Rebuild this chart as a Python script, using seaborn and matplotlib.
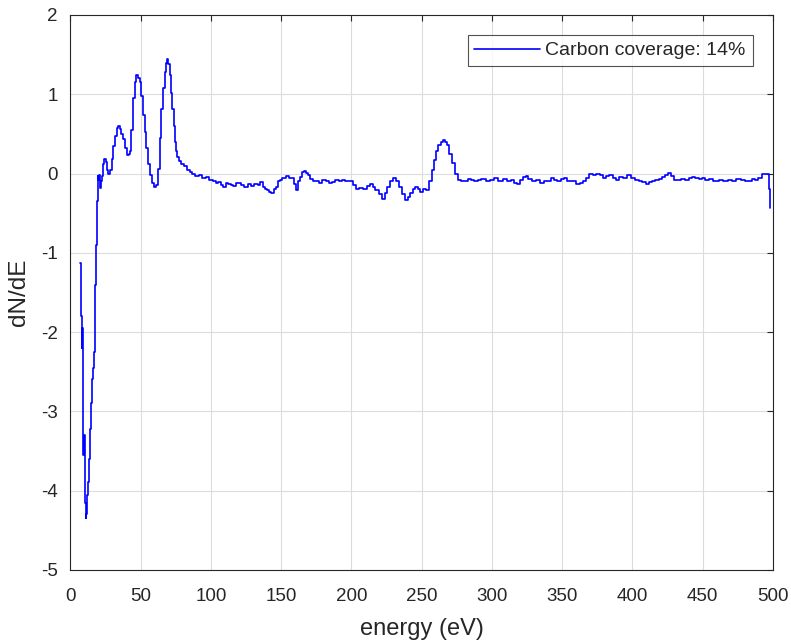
import numpy as np
import pandas as pd
import matplotlib
matplotlib.use("Agg")
import matplotlib.pyplot as plt
import seaborn as sns

# -------------------- data --------------------
energy_low = [7.0, 7.6, 8.2, 8.6, 9.0, 9.5, 10.0, 10.5, 11.0, 11.5, 12.0, 12.8, 13.4, 14.0,
              14.8, 15.6, 16.2, 16.8, 17.5, 18.0, 18.7, 19.2, 19.6, 20.2, 20.8, 21.4, 22.0,
              22.8, 23.6, 24.6, 25.5, 26.4, 27.4, 28.6, 29.8, 31.0, 32.2, 33.4, 34.6, 35.6,
              36.8, 38.0, 39.4, 40.9, 42.0, 42.7, 43.8, 45.2, 46.4, 47.5, 48.6, 49.9, 51.0,
              52.3, 53.4, 54.6, 56.0, 57.7, 59.0, 60.5, 61.8, 62.9, 64.0, 65.2, 66.4, 67.6,
              68.5, 69.3, 70.2, 71.1, 72.0, 73.0, 73.9, 74.7, 75.6, 76.4, 78.0, 80.0, 81.8,
              84.0, 85.8, 87.7, 90.0, 92.4, 95.0, 97.5]
dnde_low = [-1.13, -1.8, -2.2, -1.95, -3.2, -3.55, -3.3, -4.15, -4.35, -4.3, -4.05, -3.89, -3.6, -3.22,
            -2.9, -2.59, -2.45, -2.25, -1.66, -1.4, -0.9, -0.35, -0.03, -0.08, -0.02, -0.18, -0.1,
            -0.03, 0.12, 0.19, 0.14, 0.04, 0.0, 0.05, 0.19, 0.35, 0.48, 0.57, 0.6, 0.56,
            0.5, 0.44, 0.32, 0.23, 0.25, 0.29, 0.55, 0.95, 1.15, 1.24, 1.2, 1.16, 0.98,
            0.74, 0.52, 0.32, 0.12, -0.02, -0.12, -0.17, -0.14, 0.06, 0.45, 0.82, 1.08, 1.28,
            1.4, 1.45, 1.38, 1.24, 1.02, 0.82, 0.6, 0.4, 0.28, 0.21, 0.16, 0.12, 0.09,
            0.05, 0.02, 0.0, -0.03, -0.02, -0.05, -0.04]

energy_mid = [100.0, 102.6, 104.5, 106.0, 108.0, 109.7, 111.5, 113.2, 115.0, 116.8, 118.5, 120.3,
              122.5, 125.0, 127.5, 129.7, 132.0, 134.4, 136.0, 137.9, 139.5, 140.8, 142.3, 143.8,
              145.5, 147.4, 148.5, 149.7, 152.0, 154.4, 156.0, 158.0, 160.0, 161.5, 162.8, 163.9,
              165.3, 166.7, 168.2, 169.8, 171.5, 173.3, 175.5, 178.0, 180.5, 182.7, 185.0, 187.4,
              189.8, 192.1, 194.5, 196.8, 198.5, 200.3, 202.0, 203.9, 207.0, 209.8, 212.0, 214.5,
              216.2, 218.0, 220.5, 223.2, 224.8, 226.3, 228.3, 230.3, 232.5, 234.5, 237.0, 239.2,
              241.0, 242.8, 244.5, 246.3, 248.0, 249.8, 252.0, 254.5, 256.2, 257.8, 259.3, 261.0,
              262.8, 264.2, 265.6, 267.2, 268.7, 270.5, 272.2, 274.5, 276.9, 279.0, 281.6, 284.0,
              286.3, 288.5, 291.0, 294.0, 297.0]
dnde_mid = [-0.08, -0.1, -0.12, -0.11, -0.14, -0.17, -0.12, -0.13, -0.15, -0.16, -0.12, -0.12,
            -0.14, -0.17, -0.13, -0.16, -0.13, -0.14, -0.11, -0.17, -0.19, -0.21, -0.23, -0.24,
            -0.2, -0.17, -0.1, -0.08, -0.06, -0.03, -0.05, -0.06, -0.13, -0.21, -0.1, -0.04,
            0.02, 0.03, 0.01, -0.02, -0.07, -0.1, -0.09, -0.12, -0.08, -0.09, -0.12, -0.11,
            -0.08, -0.1, -0.08, -0.1, -0.09, -0.1, -0.15, -0.19, -0.18, -0.19, -0.16, -0.13,
            -0.17, -0.21, -0.26, -0.32, -0.24, -0.17, -0.1, -0.06, -0.1, -0.17, -0.26, -0.33,
            -0.3, -0.25, -0.2, -0.17, -0.2, -0.23, -0.2, -0.21, -0.1, 0.04, 0.17, 0.28,
            0.36, 0.4, 0.42, 0.4, 0.36, 0.25, 0.13, 0.0, -0.08, -0.1, -0.1, -0.07,
            -0.08, -0.1, -0.08, -0.07, -0.09]

energy_high = [300.0, 303.0, 306.0, 309.0, 312.0, 315.0, 317.0, 319.0, 321.0, 323.0, 325.0, 327.0,
               330.0, 333.0, 335.6, 338.0, 341.0, 343.0, 345.0, 348.0, 350.0, 352.0, 355.0, 358.0,
               361.5, 364.0, 366.0, 368.0, 370.6, 373.0, 375.5, 377.6, 380.0, 382.5, 384.7, 387.0,
               389.4, 392.0, 395.0, 397.6, 400.0, 403.5, 406.0, 408.0, 410.6, 413.0, 415.0, 417.6,
               420.0, 422.3, 424.5, 426.6, 428.5, 430.6, 433.0, 436.0, 438.8, 441.0, 443.5, 446.0,
               448.0, 450.6, 453.0, 456.0, 458.0, 460.0, 463.0, 466.0, 469.4, 472.0, 475.0, 478.8,
               481.0, 484.0, 486.0, 488.3, 491.0, 494.1, 496.5, 497.5, 498.0]
dnde_high = [-0.08, -0.06, -0.09, -0.07, -0.09, -0.08, -0.12, -0.13, -0.08, -0.04, -0.03, -0.07,
             -0.1, -0.08, -0.12, -0.09, -0.1, -0.06, -0.08, -0.09, -0.07, -0.06, -0.09, -0.1,
             -0.13, -0.12, -0.1, -0.05, -0.01, -0.02, -0.01, -0.02, -0.05, -0.03, -0.02, -0.06,
             -0.08, -0.04, -0.05, -0.02, -0.05, -0.08, -0.1, -0.11, -0.13, -0.11, -0.1, -0.08,
             -0.07, -0.04, -0.02, 0.01, -0.03, -0.08, -0.08, -0.07, -0.08, -0.06, -0.04, -0.06,
             -0.07, -0.06, -0.08, -0.07, -0.1, -0.1, -0.08, -0.09, -0.08, -0.1, -0.07, -0.08,
             -0.1, -0.09, -0.07, -0.08, -0.06, -0.01, -0.01, -0.2, -0.44]

series_label = "Carbon coverage: 14%"

df = pd.DataFrame({
    "energy": energy_low + energy_mid + energy_high,
    "dNdE": dnde_low + dnde_mid + dnde_high,
})

# -------------------- plot --------------------
sns.set_style("white")
plt.rcParams['font.family'] = ['Liberation Sans', 'DejaVu Sans']
plt.rcParams['axes.unicode_minus'] = False

fig = plt.figure(figsize=(7.91, 6.41), dpi=100)
ax = fig.add_axes([0.0891, 0.1108, 0.8881, 0.8658])

sns.lineplot(data=df, x="energy", y="dNdE", ax=ax, color="#0000ff", linewidth=1.2,
             label=series_label, sort=False, estimator=None, drawstyle="steps-mid")

ax.set_xlim(0, 500)
ax.set_ylim(-5, 2)
ax.set_xticks(np.arange(0, 501, 50))
ax.set_yticks(np.arange(-5, 3, 1))
ax.grid(True, color="#dcdcdc", linewidth=0.8)
ax.tick_params(direction="in", length=4, top=True, right=True, labelsize=13.5,
               color="#262626", labelcolor="#262626")
ax.tick_params(axis="x", pad=13)
ax.tick_params(axis="y", pad=9)
for s in ax.spines.values():
    s.set_color("#262626")
    s.set_linewidth(0.8)

ax.set_xlabel("energy (eV)", fontsize=17, color="#262626", labelpad=9)
ax.set_ylabel("dN/dE", fontsize=17.5, color="#262626", labelpad=8)

leg = ax.legend(loc="upper right", bbox_to_anchor=(0.971, 0.964), fontsize=14,
                frameon=True, fancybox=False, edgecolor="#262626", handlelength=3.35,
                handletextpad=0.3, borderpad=0.35, borderaxespad=0)
leg.get_frame().set_linewidth(0.8)

fig.savefig("out.png", dpi=100)
